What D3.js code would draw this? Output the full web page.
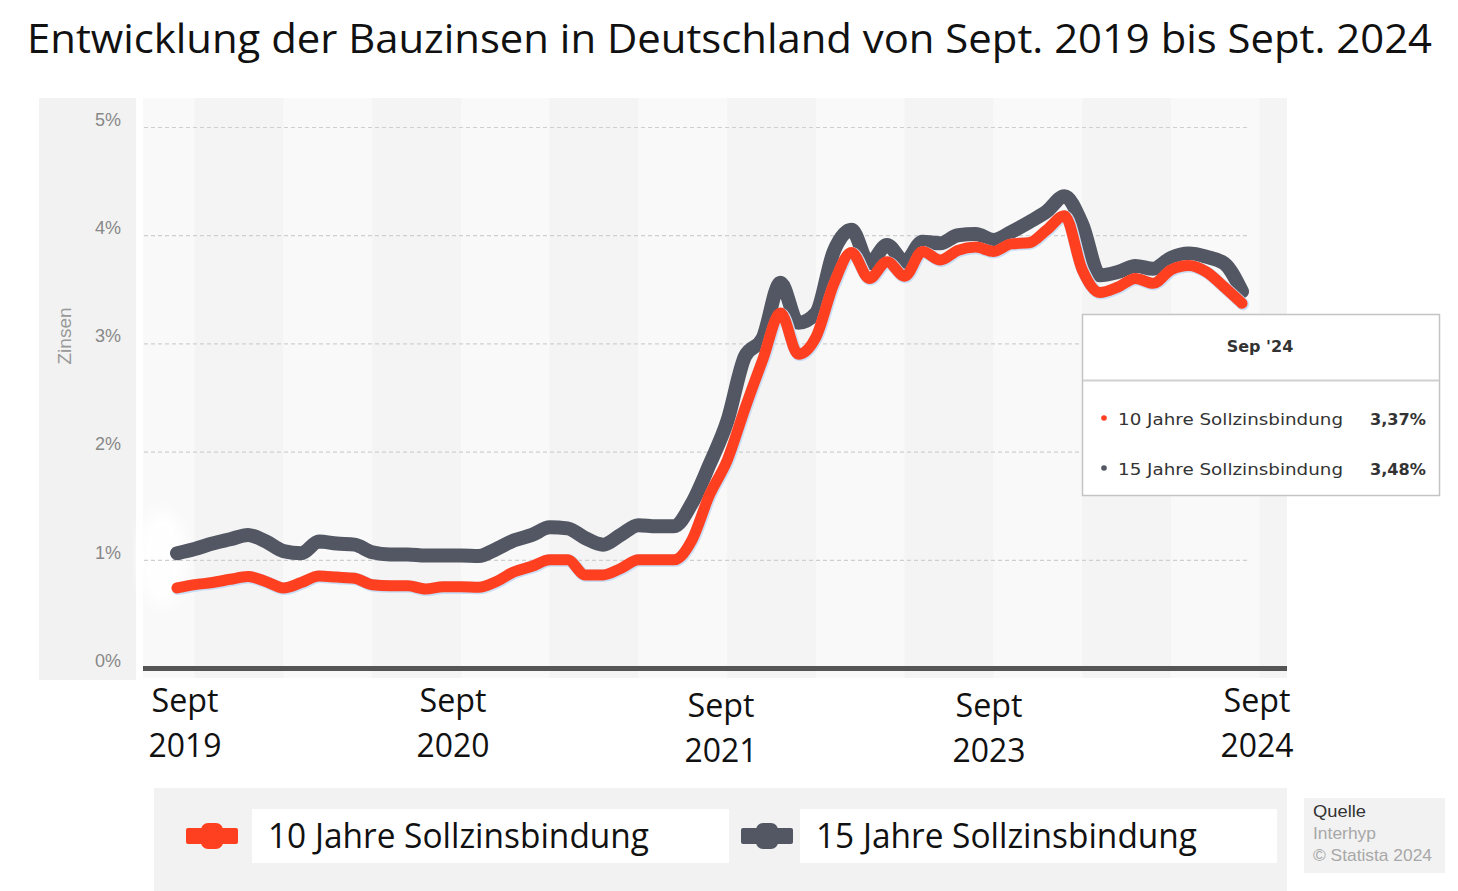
<!DOCTYPE html>
<html>
<head>
<meta charset="utf-8">
<script src="https://cdn.jsdelivr.net/npm/d3@7"></script>
<style>
  html, body { margin: 0; padding: 0; background: #ffffff; }
  svg { display: block; }
</style>
</head>
<body>
<svg id="chart" width="1458" height="891"></svg>
<script>
// ---------------- DATA ----------------
const title = "Entwicklung der Bauzinsen in Deutschland von Sept. 2019 bis Sept. 2024";
const seriesNames = ["10 Jahre Sollzinsbindung", "15 Jahre Sollzinsbindung"];
// monthly values, Sep 2019 .. Sep 2024 (61 months)
const zins10 = [
  0.74, 0.77, 0.79, 0.82, 0.845, 0.80, 0.74, 0.79, 0.85, 0.84,
  0.83, 0.77, 0.76, 0.76, 0.73, 0.75, 0.75, 0.746, 0.80, 0.89,
  0.94, 1.00, 1.00, 0.86, 0.86, 0.92, 1.00, 1.00, 1.00, 1.18,
  1.60, 1.92, 2.40, 2.85, 3.28, 2.90, 3.06, 3.55, 3.84, 3.60,
  3.755, 3.62, 3.85, 3.77, 3.86, 3.89, 3.85, 3.92, 3.93, 4.05,
  4.18, 3.68, 3.47, 3.52, 3.60, 3.555, 3.68, 3.72, 3.66, 3.52,
  3.37
];
const zins15 = [
  1.06, 1.10, 1.15, 1.19, 1.23, 1.17, 1.08, 1.06, 1.17, 1.15,
  1.14, 1.07, 1.05, 1.05, 1.04, 1.04, 1.04, 1.035, 1.10, 1.18,
  1.23, 1.30, 1.29, 1.20, 1.14, 1.23, 1.32, 1.31, 1.31, 1.52,
  1.88, 2.28, 2.88, 3.05, 3.56, 3.19, 3.28, 3.85, 4.05, 3.74,
  3.91, 3.755, 3.94, 3.925, 4.00, 4.01, 3.956, 4.03, 4.12, 4.22,
  4.36, 4.10, 3.63, 3.66, 3.715, 3.69, 3.79, 3.83, 3.80, 3.74,
  3.48
];
const yTicks = [0, 1, 2, 3, 4, 5];
const xTickTop = ["Sept", "Sept", "Sept", "Sept", "Sept"];
const xTickBottom = ["2019", "2020", "2021", "2023", "2024"];
const tooltipTitle = "Sep '24";
const tooltipValues = ["3,37%", "3,48%"];
const yAxisTitle = "Zinsen";
const sourceLines = ["Quelle", "Interhyp", "© Statista 2024"];

const months = d3.timeMonths(new Date(2019, 8, 1), new Date(2024, 9, 1));

// ---------------- LAYOUT ----------------
const RED = "#ff4020", GREY = "#525763";
const svg = d3.select("#chart");
const plotLeft = 143, plotRight = 1287, plotTop = 98, plotBottom = 678;
const x = d3.scaleLinear().domain([0, months.length - 1]).range([177, 1242]);
const y = d3.scaleLinear().domain([0, 5]).range([668, 127]);

// title
svg.append("text").attr("x", 27).attr("y", 53)
  .attr("font-family", "'Open Sans', sans-serif").attr("font-size", 41)
  .attr("fill", "#111").attr("textLength", 1405).attr("lengthAdjust", "spacingAndGlyphs")
  .text(title);

// y axis panel
svg.append("rect").attr("x", 39).attr("y", plotTop).attr("width", 97).attr("height", plotBottom + 2 - plotTop).attr("fill", "#f2f2f2");
// plot background
svg.append("rect").attr("x", plotLeft).attr("y", plotTop).attr("width", plotRight - plotLeft).attr("height", plotBottom - plotTop).attr("fill", "#f9f9f9");
const bandStarts = d3.range(1, months.length + 1, 5);
svg.append("g").selectAll("rect").data(bandStarts).join("rect")
  .attr("x", d => x(d))
  .attr("y", plotTop)
  .attr("width", d => Math.max(0, Math.min(plotRight, x(d + 5)) - x(d)))
  .attr("height", plotBottom - plotTop)
  .attr("fill", (d, i) => i % 2 === 0 ? "#f4f4f4" : "#f9f9f9");

// white smudge at the left
const defs = svg.append("defs");
defs.append("filter").attr("id", "blur").append("feGaussianBlur").attr("stdDeviation", 7);
svg.append("ellipse").attr("cx", 162).attr("cy", 558).attr("rx", 24).attr("ry", 48)
  .attr("fill", "#ffffff").attr("opacity", 0.95).attr("filter", "url(#blur)");

// gridlines
const grid = svg.append("g").attr("transform", "translate(1247,0)")
  .call(d3.axisLeft(y).tickValues(yTicks.filter(t => t > 0)).tickSize(1247 - plotLeft).tickFormat(""));
grid.select(".domain").remove();
grid.selectAll("line").attr("stroke", "#cfcfcf").attr("stroke-width", 1.2).attr("stroke-dasharray", "4,3");

// y labels
const yl = svg.append("g").attr("transform", "translate(121,0)")
  .call(d3.axisLeft(y).tickValues(yTicks).tickSize(0).tickPadding(0).tickFormat(d => d + "%"));
yl.select(".domain").remove();
yl.selectAll("text").attr("font-family", "'Liberation Sans', Arial, sans-serif").attr("font-size", 18)
  .attr("fill", "#888888").attr("dy", "-0.1em").attr("text-anchor", "end");

svg.append("text").attr("transform", "translate(71,336) rotate(-90)")
  .attr("text-anchor", "middle").attr("font-family", "'Liberation Sans', Arial, sans-serif")
  .attr("font-size", 19).attr("fill", "#999999").text(yAxisTitle);

// x axis line
svg.append("rect").attr("x", plotLeft).attr("y", 666).attr("width", plotRight - plotLeft).attr("height", 5).attr("fill", "#555555");

// lines
const line = d3.line().x((d, i) => x(i)).y(d => y(d)).curve(d3.curveMonotoneX);
svg.append("path").datum(zins15).attr("d", line).attr("fill", "none")
  .attr("stroke", GREY).attr("stroke-width", 14).attr("stroke-linecap", "round").attr("stroke-linejoin", "round");
svg.append("path").datum(zins10).attr("d", line).attr("fill", "none")
  .attr("stroke", "#c9def5").attr("stroke-width", 12.5).attr("stroke-linecap", "round").attr("stroke-linejoin", "round")
  .attr("transform", "translate(0.8,0.8)");
svg.append("path").datum(zins10).attr("d", line).attr("fill", "none")
  .attr("stroke", RED).attr("stroke-width", 11).attr("stroke-linecap", "round").attr("stroke-linejoin", "round");

// x tick labels
const xl = d3.scalePoint().domain(d3.range(xTickTop.length)).range([185, 1257]);
const yOff = [0, 0, 5, 5, 0];
const xg = svg.append("g").attr("font-family", "'Open Sans', sans-serif").attr("font-size", 33).attr("fill", "#111");
xg.selectAll("text.top").data(xTickTop).join("text").attr("class", "top")
  .attr("x", (d, i) => xl(i)).attr("y", (d, i) => 712 + yOff[i]).attr("text-anchor", "middle")
  .attr("textLength", 67).attr("lengthAdjust", "spacingAndGlyphs").text(d => d);
xg.selectAll("text.bot").data(xTickBottom).join("text").attr("class", "bot")
  .attr("x", (d, i) => xl(i)).attr("y", (d, i) => 757 + yOff[i]).attr("text-anchor", "middle")
  .attr("textLength", 73).attr("lengthAdjust", "spacingAndGlyphs").text(d => d);

// tooltip
const tt = svg.append("g");
tt.append("rect").attr("x", 1082.5).attr("y", 314.5).attr("width", 357).attr("height", 181)
  .attr("fill", "#ffffff").attr("stroke", "#c4c4c4").attr("stroke-width", 1.5);
tt.append("line").attr("x1", 1083).attr("x2", 1439).attr("y1", 380.5).attr("y2", 380.5).attr("stroke", "#d0d0d0").attr("stroke-width", 2);
tt.append("text").attr("x", 1260).attr("y", 352).attr("text-anchor", "middle")
  .attr("font-family", "'DejaVu Sans', sans-serif").attr("font-weight", "bold").attr("font-size", 16)
  .attr("fill", "#333").text(tooltipTitle);
const ttColors = [RED, GREY];
seriesNames.forEach((n, i) => {
  const yy = 425 + i * 50;
  tt.append("circle").attr("cx", 1104).attr("cy", yy - 7).attr("r", 2.8).attr("fill", ttColors[i]);
  tt.append("text").attr("x", 1118).attr("y", yy).attr("font-family", "'DejaVu Sans', sans-serif")
    .attr("font-size", 16).attr("fill", "#333").attr("textLength", 225).attr("lengthAdjust", "spacingAndGlyphs").text(n);
  tt.append("text").attr("x", 1426).attr("y", yy).attr("text-anchor", "end").attr("font-family", "'DejaVu Sans', sans-serif")
    .attr("font-size", 16).attr("font-weight", "bold").attr("fill", "#333").attr("textLength", 56).attr("lengthAdjust", "spacingAndGlyphs").text(tooltipValues[i]);
});

// legend
svg.append("rect").attr("x", 154).attr("y", 788).attr("width", 1133).attr("height", 103).attr("fill", "#f2f2f2");
const legX = [186, 741];
const boxX = [252, 800];
seriesNames.forEach((n, i) => {
  const c = ttColors[i];
  svg.append("rect").attr("x", boxX[i]).attr("y", 809).attr("width", 477).attr("height", 54).attr("fill", "#ffffff");
  svg.append("rect").attr("x", legX[i]).attr("y", 828).attr("width", 52).attr("height", 16).attr("rx", 2).attr("fill", c);
  svg.append("rect").attr("x", legX[i] + 15).attr("y", 823).attr("width", 22).attr("height", 26).attr("rx", 7).attr("fill", c);
  svg.append("text").attr("x", boxX[i] + 16).attr("y", 848).attr("font-family", "'Open Sans', sans-serif")
    .attr("font-size", 34).attr("fill", "#111").attr("textLength", 381).attr("lengthAdjust", "spacingAndGlyphs").text(n);
});

// source
svg.append("rect").attr("x", 1304).attr("y", 798).attr("width", 141).attr("height", 75).attr("fill", "#f2f2f2");
const srcW = [53, 63, 119];
svg.append("g").selectAll("text").data(sourceLines).join("text")
  .attr("x", 1313).attr("y", (d, i) => 817 + i * 22)
  .attr("font-family", "'Liberation Sans', Arial, sans-serif").attr("font-size", 17)
  .attr("fill", (d, i) => i === 0 ? "#333" : "#a8a8a8")
  .attr("textLength", (d, i) => srcW[i]).attr("lengthAdjust", "spacingAndGlyphs")
  .text(d => d);
</script>
</body>
</html>
